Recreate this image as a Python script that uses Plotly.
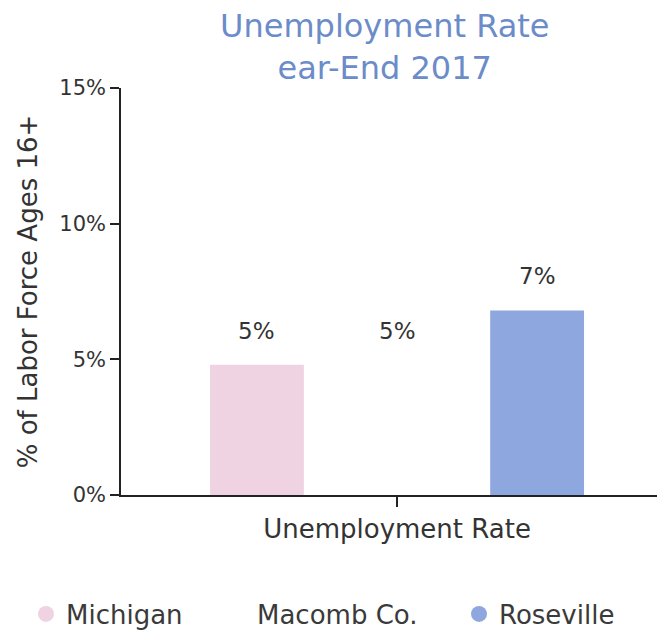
import plotly.graph_objects as go

# Year-end 2017 unemployment, percent of labor force ages 16+
category = ["Unemployment Rate"]
areas = ["Michigan", "Macomb Co.", "Roseville"]
rates = [4.8, 4.8, 6.8]
bar_colors = ["#f0d3e3", "#ffffff", "#8ea7de"]
y_ticks = [0, 5, 10, 15]
y_tick_text = ["0%", "5%", "10%", "15%"]
title_lines = ["Unemployment Rate", "ear-End 2017"]

FONT = "DejaVu Sans"
TEXT = "#333333"
AXIS = "#222222"

# each legend entry sits in its own legend box so the spacing can be set
legend_ids = ["legend", "legend2", "legend3"]
legend_left_px = [26, 217, 459]

fig = go.Figure()

for name, val, col in zip(areas, rates, bar_colors):
    fig.add_trace(go.Bar(
        x=category, y=[val], name=name, marker_color=col,
        marker_line_width=0, showlegend=False,
    ))

# circular legend swatches
for name, col, lid in zip(areas, bar_colors, legend_ids):
    fig.add_trace(go.Scatter(
        x=[None], y=[None], mode="markers", name=name, legend=lid,
        marker=dict(symbol="circle", size=19, color=col),
    ))

# value labels above each bar (group offsets follow bargap/bargroupgap)
slot = (1 - 0.216) / 3
offsets = [-slot, 0, slot]
for off, val in zip(offsets, rates):
    fig.add_annotation(
        x=off, y=val, xref="x", yref="y",
        text=f"{val:.0f}%", showarrow=False, yanchor="bottom", yshift=19,
        font=dict(family=FONT, size=23, color=TEXT),
    )

# two-line chart heading
fig.add_annotation(
    x=0.4925, y=1.1007, xref="paper", yref="paper",
    xanchor="center", yanchor="middle", showarrow=False,
    text="<br>".join(title_lines),
    font=dict(family=FONT, size=32, color="#6b8cc9"),
)

legend_style = dict(
    orientation="h", xanchor="left", xref="container",
    y=18 / 632, yanchor="middle", yref="container",
    font=dict(family=FONT, size=26, color="#3a3a3a"),
    itemwidth=30, bgcolor="rgba(0,0,0,0)",
)
legends = {
    lid: dict(legend_style, x=px / 667)
    for lid, px in zip(legend_ids, legend_left_px)
}

fig.update_layout(
    width=667, height=632,
    margin=dict(l=121, r=10, t=88, b=137, autoexpand=False),
    paper_bgcolor="white", plot_bgcolor="white",
    barmode="group", bargap=0.216, bargroupgap=0.33,
    font=dict(family=FONT, size=22, color=TEXT),
    xaxis=dict(
        type="category", range=[-0.515, 0.485],
        showline=True, linecolor=AXIS, linewidth=1.5,
        ticks="outside", ticklen=10, tickcolor=AXIS, tickwidth=1.5,
        tickfont=dict(family=FONT, size=26, color=TEXT),
        showgrid=False, automargin=False,
    ),
    yaxis=dict(
        range=[0, 15], tickvals=y_ticks, ticktext=y_tick_text,
        showline=True, linecolor=AXIS, linewidth=1.5,
        ticks="outside", ticklen=9, tickcolor=AXIS, tickwidth=1.5,
        tickfont=dict(family=FONT, size=21, color=TEXT),
        showgrid=False, zeroline=False, automargin=False,
        title=dict(text="% of Labor Force Ages 16+", standoff=14,
                   font=dict(family=FONT, size=26, color=TEXT)),
    ),
    **legends,
)

fig.write_html("out.html")
